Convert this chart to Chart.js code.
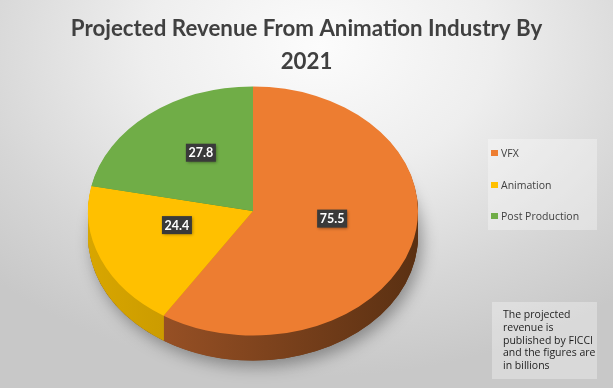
<!DOCTYPE html>
<html>
<head>
<meta charset="utf-8">
<script src="https://cdn.jsdelivr.net/npm/chart.js@4.4.1/dist/chart.umd.min.js"></script>
<style>
  html, body { margin: 0; padding: 0; }
  #wrap {
    position: relative;
    width: 613px;
    height: 388px;
    overflow: hidden;
    background: radial-gradient(ellipse 75% 85% at 52% 12%, #fcfcfc 0%, #eeeeee 38%, #d6d6d6 75%, #c8c8c8 100%);
  }
  #wrap canvas { position: absolute; left: 0; top: 0; }
  .box {
    position: absolute;
    background: rgba(255, 255, 255, 0.32);
    font-family: "Open Sans", sans-serif;
    font-size: 10.5px;
  }
  #legend { left: 488px; top: 139px; width: 109px; height: 91px; color: #404040; }
  #legend .item { position: absolute; left: 3px; height: 14px; line-height: 14px; white-space: nowrap; }
  #legend .sw { display: inline-block; width: 7px; height: 6px; margin-right: 3px; vertical-align: 1px; }
  #note { left: 492px; top: 302px; width: 105px; height: 77px; color: #1e1e1e; line-height: 12.8px; }
  #note div { padding: 6px 0 0 11px; }
</style>
</head>
<body>
<div id="wrap">
  <canvas id="chart" width="613" height="388"></canvas>
  <div id="legend" class="box"></div>
  <div id="note" class="box"><div></div></div>
</div>
<script>
// data
const labels = ["VFX", "Animation", "Post Production"];
const revenue = [75.5, 24.4, 27.8];
const titleLines = ["Projected Revenue From Animation Industry By", "2021"];
const noteLines = ["The projected", "revenue is", "published by FICCI", "and the figures are", "in billions"];

// colours
const topColors = ["#ED7D31", "#FFC000", "#70AD47"];
const sideColors = [["#a8592a", "#5a3012"], ["#d8a600", "#a27a00"], ["#5e9639", "#3a6322"]];

// fake 3d view of the pie
const PIE_CX = 253;
const PIE_CY = 211;
const TILT = 0.755;
const DEPTH = 25;
const LABEL_LIFT = 10;

function applyView(ctx, arc, d) {
  ctx.translate(PIE_CX, PIE_CY + d);
  ctx.scale(1, TILT);
  ctx.translate(-arc.x, -arc.y);
}

const tiltPlugin = {
  id: "tilt3d",
  beforeDatasetDraw(chart, args) {
    const ctx = chart.ctx;
    const arcs = args.meta.data;
    const first = arcs[0];

    // soft shadow under the pie
    ctx.save();
    ctx.shadowColor = "rgba(0,0,0,0.35)";
    ctx.shadowBlur = 16;
    ctx.shadowOffsetX = 4;
    ctx.shadowOffsetY = 6;
    applyView(ctx, first, DEPTH);
    ctx.beginPath();
    ctx.arc(first.x, first.y, first.outerRadius, 0, Math.PI * 2);
    ctx.fillStyle = "#6a3a18";
    ctx.fill();
    ctx.restore();

    // side walls
    for (let d = DEPTH; d >= 1; d--) {
      arcs.forEach((arc, i) => {
        ctx.save();
        applyView(ctx, arc, d);
        const g = ctx.createLinearGradient(arc.x - arc.outerRadius, 0, arc.x + arc.outerRadius, 0);
        g.addColorStop(0, sideColors[i][0]);
        g.addColorStop(1, sideColors[i][1]);
        ctx.fillStyle = g;
        ctx.beginPath();
        ctx.moveTo(arc.x, arc.y);
        ctx.arc(arc.x, arc.y, arc.outerRadius, arc.startAngle, arc.endAngle);
        ctx.closePath();
        ctx.fill();
        ctx.restore();
      });
    }

    // top face gets drawn by chart.js under this transform
    ctx.save();
    applyView(ctx, first, 0);
  },
  afterDatasetDraw(chart) {
    chart.ctx.restore();
  },
  afterDatasetsDraw(chart) {
    const ctx = chart.ctx;
    const arcs = chart.getDatasetMeta(0).data;
    ctx.save();
    ctx.font = "bold 12.5px Lato";
    ctx.textAlign = "center";
    ctx.textBaseline = "middle";
    arcs.forEach((arc, i) => {
      const p = arc.tooltipPosition();
      const x = PIE_CX + (p.x - arc.x);
      const y = PIE_CY + (p.y - arc.y) * TILT - LABEL_LIFT;
      ctx.save();
      ctx.shadowColor = "rgba(0,0,0,0.4)";
      ctx.shadowBlur = 3;
      ctx.shadowOffsetX = 1;
      ctx.shadowOffsetY = 1;
      ctx.fillStyle = "#3a3a3a";
      ctx.fillRect(x - 15, y - 9, 30, 18);
      ctx.restore();
      ctx.fillStyle = "#ffffff";
      ctx.fillText(revenue[i].toFixed(1), x, y + 0.5);
    });
    ctx.restore();
  }
};

new Chart(document.getElementById("chart"), {
  type: "pie",
  data: {
    labels: labels,
    datasets: [{
      data: revenue,
      backgroundColor: topColors,
      borderWidth: 0,
      radius: 165
    }]
  },
  options: {
    responsive: false,
    animation: false,
    events: [],
    layout: { padding: 0 },
    plugins: {
      legend: { display: false },
      tooltip: { enabled: false },
      title: {
        display: true,
        text: titleLines,
        color: "#404040",
        font: { family: "Lato", size: 22.3, weight: "bold", lineHeight: 1.46 },
        padding: { top: 13, bottom: 4 }
      }
    }
  },
  plugins: [tiltPlugin]
});

// legend + note boxes
const legend = document.getElementById("legend");
labels.forEach((lab, i) => {
  const item = document.createElement("div");
  item.className = "item";
  item.style.top = (7 + i * 31.5) + "px";
  item.innerHTML = '<span class="sw" style="background:' + topColors[i] + '"></span>' + lab;
  legend.appendChild(item);
});
document.querySelector("#note div").innerHTML = noteLines.join("<br>");
</script>
</body>
</html>
